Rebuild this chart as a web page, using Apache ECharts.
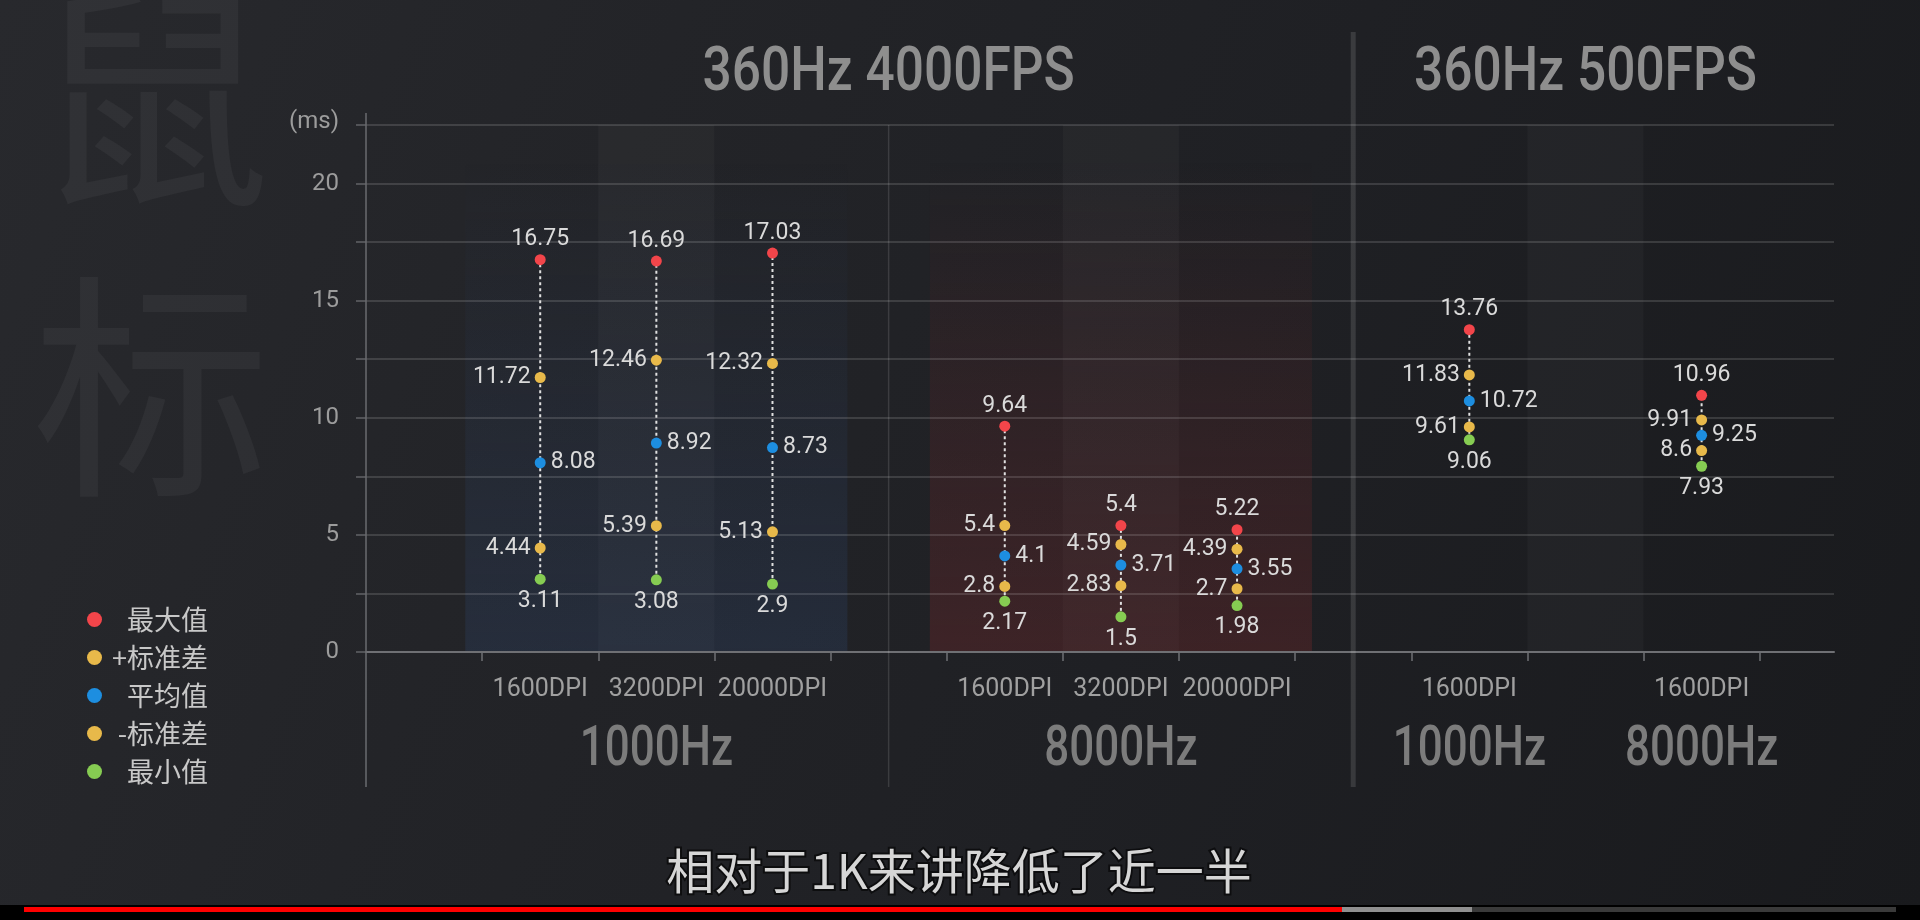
<!DOCTYPE html>
<html>
<head>
<meta charset="utf-8">
<script src="https://cdn.jsdelivr.net/npm/echarts@6/dist/echarts.min.js"></script>
<style>
html,body{margin:0;padding:0;width:1920px;height:920px;overflow:hidden;background:#1c1d21;}
#c{width:1920px;height:920px;background:linear-gradient(112deg,#28292d 0%,#232428 30%,#1f2024 60%,#191a1d 100%);}
</style>
</head>
<body>
<div id="c"></div>
<script>
// ---------------- data ----------------
const sections = ['360Hz 4000FPS', '360Hz 500FPS'];
const pollingRates = ['1000Hz', '8000Hz', '1000Hz', '8000Hz'];
const sectionOfRate = [0, 0, 1, 1];
const dpiLabels = ['1600DPI', '3200DPI', '20000DPI', '1600DPI', '3200DPI', '20000DPI', '1600DPI', '1600DPI'];
const rateOf = [0, 0, 0, 1, 1, 1, 2, 3];
const maxVals   = [16.75, 16.69, 17.03, 9.64, 5.4, 5.22, 13.76, 10.96];
const plusStd   = [11.72, 12.46, 12.32, 5.4, 4.59, 4.39, 11.83, 9.91];
const meanVals  = [8.08, 8.92, 8.73, 4.1, 3.71, 3.55, 10.72, 9.25];
const minusStd  = [4.44, 5.39, 5.13, 2.8, 2.83, 2.7, 9.61, 8.6];
const minVals   = [3.11, 3.08, 2.9, 2.17, 1.5, 1.98, 9.06, 7.93];
const seriesNames = ['最大值', '+标准差', '平均值', '-标准差', '最小值'];
const yTickLabels = [0, 5, 10, 15, 20];
const yUnit = '(ms)';
const subtitle = '相对于1K来讲降低了近一半';
const watermark = ['鼠', '标'];

// ---------------- layout ----------------
const COLORS = ['#f2454a', '#e8b94a', '#1d8ee0', '#e8b94a', '#86cc52'];
const NUMF = 'Roboto, "Noto Sans", sans-serif';
const CJK = '"Noto Sans CJK SC", sans-serif';
const X_MAX = 12.64, Y_MAX = 22.5;

const slotOf = [];
{ let s = 1; rateOf.forEach((g, i) => { if (i > 0 && g !== rateOf[i - 1]) s++; slotOf.push(s); s++; }); }
const colX = slotOf.map(s => s + 0.5);
const rateCenters = pollingRates.map((_, g) => {
  const xs = colX.filter((_, i) => rateOf[i] === g);
  return xs.reduce((a, b) => a + b, 0) / xs.length;
});
const sectionCenters = sections.map((_, k) => {
  const ss = slotOf.filter((_, i) => sectionOfRate[rateOf[i]] === k);
  return (Math.min(...ss) + Math.max(...ss) + 1) / 2;
});
const bandSlots = [2, 6, 10];
const xTicks = []; for (let i = 1; i <= 12; i++) xTicks.push(i);
const yTicks = []; for (let v = 0; v <= Y_MAX; v += 2.5) yTicks.push(v);
const dpiMap = {}; colX.forEach((x, i) => dpiMap[x] = dpiLabels[i]);

const valueSets = [maxVals, plusStd, meanVals, minusStd, minVals];
const labelPos = ['top', 'left', 'right', 'left', 'bottom'];
const labelDist = [3, 4, 5, 4, 5];

const chart = echarts.init(document.getElementById('c'), null, { renderer: 'canvas' });

const scatterSeries = valueSets.map((vals, k) => ({
  name: seriesNames[k],
  type: 'scatter',
  z: 6,
  symbol: 'circle',
  symbolSize: 11,
  itemStyle: { color: COLORS[k], opacity: 1 },
  label: {
    show: true, position: labelPos[k], distance: labelDist[k],
    color: '#dadada', fontSize: 23, fontFamily: NUMF,
    formatter: p => String(p.value[1])
  },
  emphasis: { disabled: true },
  data: vals.map((v, i) => [colX[i], v])
}));

const baseGraphics = [
  { type: 'text', z: -50, silent: true, style: { text: watermark[0], x: 152, y: 97, align: 'center', verticalAlign: 'middle', font: '238px ' + CJK, fill: 'rgba(255,255,255,0.042)' } },
  { type: 'text', z: -50, silent: true, style: { text: watermark[1], x: 151, y: 387, align: 'center', verticalAlign: 'middle', font: '238px ' + CJK, fill: 'rgba(255,255,255,0.042)' } },
  { type: 'text', z: 50, silent: true, style: { text: subtitle, x: 959, y: 871, align: 'center', verticalAlign: 'middle', font: '400 48px ' + CJK, fill: '#d6d6d6', stroke: 'rgba(10,10,12,0.85)', lineWidth: 4, strokeFirst: true, shadowBlur: 4, shadowColor: 'rgba(0,0,0,0.8)' } },
  { type: 'rect', z: 50, silent: true, shape: { x: 0, y: 905, width: 1920, height: 15 }, style: { fill: '#000' } },
  { type: 'rect', z: 51, silent: true, shape: { x: 24, y: 907, width: 1318, height: 5 }, style: { fill: '#ff0000' } },
  { type: 'rect', z: 51, silent: true, shape: { x: 1342, y: 907, width: 130, height: 5 }, style: { fill: '#8f8f8f' } },
  { type: 'rect', z: 51, silent: true, shape: { x: 1472, y: 907, width: 424, height: 5 }, style: { fill: '#3a3a3a' } }
];

const option = {
  animation: false,
  backgroundColor: 'transparent',
  grid: { left: 366, right: 86, top: 125, bottom: 268 },
  legend: {
    orient: 'vertical', left: 82, top: 601,
    itemWidth: 15, itemHeight: 15, itemGap: 11,
    icon: 'circle',
    data: seriesNames,
    formatter: n => '{t|' + n + '}',
    textStyle: {
      color: '#c8c8c8', fontSize: 27, fontFamily: CJK,
      rich: { t: { width: 101, align: 'right', fontSize: 27, color: '#c8c8c8', fontFamily: CJK } }
    },
    selectedMode: false
  },
  xAxis: {
    type: 'value', min: 0, max: X_MAX, position: 'bottom',
    splitLine: { show: false },
    axisLine: { show: true, lineStyle: { color: '#6f7074', width: 2 } },
    axisTick: { show: true, customValues: xTicks, length: 9, lineStyle: { color: '#6f7074', width: 1.5 } },
    axisLabel: {
      customValues: colX, margin: 25, fontSize: 25, color: '#a0a0a0', fontFamily: NUMF,
      formatter: v => dpiMap[v] || ''
    }
  },
  yAxis: {
    type: 'value', min: 0, max: Y_MAX, interval: 5,
    axisLine: { show: false },
    axisTick: { show: true, customValues: yTicks, length: 10, lineStyle: { color: '#626367', width: 1.5 } },
    splitLine: { show: true, lineStyle: { color: 'rgba(255,255,255,0.18)', width: 1.5 } },
    axisLabel: {
      showMaxLabel: true, margin: 27, fontSize: 24, color: '#9c9c9c', fontFamily: NUMF,
      formatter: v => (v === Y_MAX ? '{u|' + yUnit + '}' : (yTickLabels.indexOf(v) >= 0 ? String(v) : '')),
      rich: { u: { fontSize: 24, color: '#9c9c9c', fontFamily: NUMF, padding: [0, 0, 7, 0] } }
    }
  },
  graphic: baseGraphics,
  series: [
    {
      type: 'custom', z: -3, silent: true,
      data: bandSlots.map(s => [s]),
      encode: { x: 0 },
      renderItem: (params, api) => {
        const s = api.value(0);
        const p1 = api.coord([s, Y_MAX]), p2 = api.coord([s + 1, 0]);
        return { type: 'rect', shape: { x: p1[0], y: p1[1], width: p2[0] - p1[0], height: p2[1] - p1[1] }, style: { fill: 'rgba(255,255,255,0.028)' } };
      }
    },
    {
      type: 'custom', z: -2, silent: true,
      data: rateCenters.map((c, g) => [c, g]).filter(d => sectionOfRate[d[1]] === 0),
      encode: { x: 0 },
      renderItem: (params, api) => {
        const c = api.value(0), g = api.value(1);
        const half = 1.645;
        const p1 = api.coord([c - half, 21]), p2 = api.coord([c + half, 0]);
        const isBlue = pollingRates[g] === '1000Hz';
        const rgb = isBlue ? '50,78,125' : '125,42,44';
        const a = isBlue ? 0.24 : 0.32;
        return {
          type: 'rect', shape: { x: p1[0], y: p1[1], width: p2[0] - p1[0], height: p2[1] - p1[1] },
          style: { fill: new echarts.graphic.LinearGradient(0, 0, 0, 1, [
            { offset: 0, color: 'rgba(' + rgb + ',0)' },
            { offset: 0.45, color: 'rgba(' + rgb + ',' + (a * 0.45) + ')' },
            { offset: 1, color: 'rgba(' + rgb + ',' + a + ')' }
          ]) }
        };
      }
    },
    {
      type: 'custom', z: 1, silent: true,
      data: [[0, 0], [4.5, 1], [8.5, 2]],
      encode: { x: 0 },
      renderItem: (params, api) => {
        const x = api.coord([api.value(0), 0])[0];
        const kind = api.value(1);
        const yTop = kind === 0 ? 113 : (kind === 1 ? api.coord([0, Y_MAX])[1] : 32);
        const st = kind === 0 ? { stroke: '#6a6b6f', lineWidth: 1.5 }
          : kind === 1 ? { stroke: 'rgba(255,255,255,0.12)', lineWidth: 1.5 }
          : { stroke: 'rgba(255,255,255,0.12)', lineWidth: 5 };
        return { type: 'line', shape: { x1: x, y1: yTop, x2: x, y2: 787 }, style: st };
      }
    },
    {
      type: 'custom', z: 4, silent: true,
      data: colX.map((x, i) => [x, minVals[i], maxVals[i]]),
      encode: { x: 0, y: [1, 2] },
      renderItem: (params, api) => {
        const x = api.value(0);
        const p1 = api.coord([x, api.value(1)]), p2 = api.coord([x, api.value(2)]);
        return { type: 'line', shape: { x1: p1[0], y1: p1[1], x2: p2[0], y2: p2[1] }, style: { stroke: '#e0e0e0', lineWidth: 2, lineDash: [3, 3] } };
      }
    }
  ].concat(scatterSeries)
};
chart.setOption(option);

// condensed headings placed on the x scale
const toPx = v => chart.convertToPixel({ xAxisIndex: 0 }, v);
const headingGraphics = [];
sections.forEach((name, k) => {
  headingGraphics.push({
    type: 'text', z: 20, silent: true, x: toPx(sectionCenters[k]), y: 74, scaleX: 0.83,
    style: { text: name, x: 0, y: 0, align: 'center', verticalAlign: 'middle', font: '500 62px Roboto', fill: '#8e8e8e' }
  });
});
pollingRates.forEach((name, g) => {
  headingGraphics.push({
    type: 'text', z: 20, silent: true, x: toPx(rateCenters[g]), y: 751, scaleX: 0.8,
    style: { text: name, x: 0, y: 0, align: 'center', verticalAlign: 'middle', font: '500 55px Roboto', fill: '#7c7c7c' }
  });
});
chart.setOption({ graphic: baseGraphics.concat(headingGraphics) });
</script>
</body>
</html>
